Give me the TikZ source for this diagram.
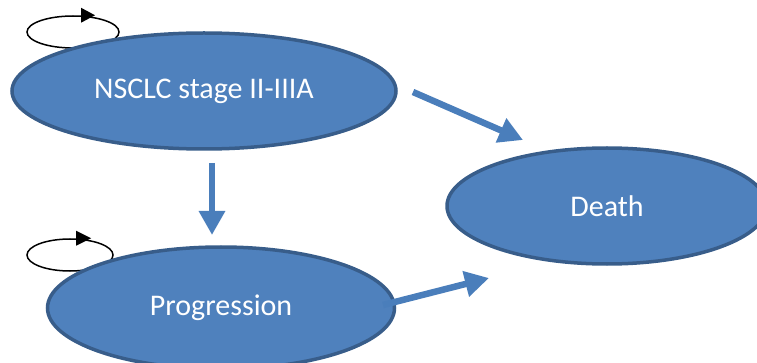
\documentclass[tikz,border=0pt]{standalone}
\usepackage{fontspec}
\setmainfont{Carlito}
\usetikzlibrary{shapes.geometric,arrows.meta}
\definecolor{fillblue}{HTML}{4F81BD}
\definecolor{edgeblue}{HTML}{385D8A}
\definecolor{arrowblue}{HTML}{4A7EBB}
\begin{document}
\begin{tikzpicture}[x=1pt,y=-1pt,
  state/.style={ellipse,draw=edgeblue,fill=fillblue,line width=3.5pt,inner sep=0pt,
    text=white,font=\fontsize{30}{33}\selectfont},
  loopell/.style={ellipse,draw=black,line width=1.5pt,inner sep=0pt,fill=none},
  bigarrow/.style={draw=arrowblue,line width=6.5pt,-{Triangle[length=24pt,width=25pt]}}]
\useasboundingbox (0,0) rectangle (757,363);
\node[loopell,minimum width=92pt,minimum height=32pt] (loop1) at (73,32) {};
\node[loopell,minimum width=86pt,minimum height=32pt] (loop2) at (70,255) {};
\fill ([xshift=8pt,yshift=-7.5pt]loop1.north) -- ([xshift=22pt]loop1.north) -- ([xshift=8pt,yshift=7.5pt]loop1.north) -- cycle;
\fill ([xshift=6pt,yshift=-7.5pt]loop2.north) -- ([xshift=21pt]loop2.north) -- ([xshift=6pt,yshift=7.5pt]loop2.north) -- cycle;
\begin{scope}
\clip (0,0) rectangle (757,363);
\node[state,minimum width=384pt,minimum height=116pt] (nsclc) at (204,91) {\raisebox{-4pt}{NSCLC stage II-IIIA}};
\node[state,minimum width=320pt,minimum height=116pt] (death) at (607,206) {\raisebox{-3pt}{Death}};
\node[state,minimum width=347pt,minimum height=122pt] (prog) at (221,308) {\raisebox{-4pt}{Progression}};
\end{scope}
\coordinate (a1s) at (413,92);
\coordinate (a1e) at (523,140);
\coordinate (a2s) at (212,163);
\coordinate (a2e) at (212,235);
\coordinate (a3s) at (383,305);
\coordinate (a3e) at (489,278);
\draw[bigarrow] (a1s) -- (a1e);
\draw[bigarrow] (a2s) -- (a2e);
\draw[bigarrow] (a3s) -- (a3e);
\end{tikzpicture}
\end{document}
